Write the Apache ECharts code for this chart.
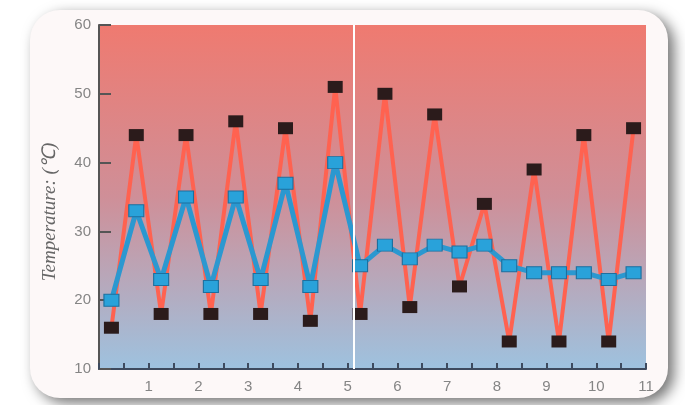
<!DOCTYPE html>
<html>
<head>
<meta charset="utf-8">
<script src="https://cdn.jsdelivr.net/npm/echarts@6/dist/echarts.min.js"></script>
<style>html,body{margin:0;padding:0;background:#fff;}#c{width:685px;height:405px;}</style>
</head>
<body>
<div id="c"></div>
<script>
const xPositions = [0.25,0.75,1.25,1.75,2.25,2.75,3.25,3.75,4.25,4.75,5.25,5.75,6.25,6.75,7.25,7.75,8.25,8.75,9.25,9.75,10.25,10.75];
const extremeTemps = [16,44,18,44,18,46,18,45,17,51,18,50,19,47,22,34,14,39,14,44,14,45];
const meanTemps = [20,33,23,35,22,35,23,37,22,40,25,28,26,28,27,28,25,24,24,24,23,24];
const dividerX = 5.12;
const yTicks = {min:10, max:60, interval:10};
const xTicks = {min:0, max:11, interval:1};

const chart = echarts.init(document.getElementById('c'));
const pair = arr => xPositions.map((x,i)=>[x,arr[i]]);
chart.setOption({
  animation:false,
  backgroundColor:'#ffffff',
  graphic:[{
    type:'rect', z:-100, silent:true,
    shape:{x:30,y:10,width:638,height:388,r:30},
    style:{fill:'#fdf8f8',shadowBlur:14,shadowOffsetX:6,shadowOffsetY:5,shadowColor:'rgba(0,0,0,0.55)'}
  }],
  grid:{left:99,top:25,right:39,bottom:36,show:true,borderWidth:0,
    backgroundColor:{type:'linear',x:0,y:0,x2:0,y2:1,colorStops:[
      {offset:0,color:'#ef7a70'},{offset:0.5,color:'#cf8f98'},{offset:1,color:'#9ec2df'}]}},
  xAxis:{type:'value',min:xTicks.min,max:xTicks.max,interval:xTicks.interval,
    axisLine:{show:true,onZero:false,lineStyle:{color:'#3e4a5e',width:2}},
    axisTick:{show:true,inside:true,length:6,lineStyle:{color:'#3e4a5e',width:2}},
    minorTick:{show:true,splitNumber:2,length:6,lineStyle:{color:'#3e4a5e',width:2}},
    splitLine:{show:false},
    axisLabel:{color:'#858585',fontSize:15,fontFamily:'Liberation Sans',margin:10,
      formatter:v=>v===0?'':String(v)}},
  yAxis:{type:'value',min:yTicks.min,max:yTicks.max,interval:yTicks.interval,
    name:'Temperature: (℃)',nameLocation:'middle',nameGap:40,
    nameTextStyle:{color:'#666',fontSize:19,fontStyle:'italic',fontFamily:'Liberation Serif',padding:[0,30,0,0]},
    axisLine:{show:true,lineStyle:{color:'#555',width:2}},
    axisTick:{show:true,inside:true,length:12,lineStyle:{color:'#555',width:2}},
    splitLine:{show:false},
    axisLabel:{color:'#858585',fontSize:15,fontFamily:'Liberation Sans',margin:8}},
  series:[
    {type:'line',data:pair(extremeTemps),z:2,
      lineStyle:{color:'#ff6250',width:4},
      symbol:'rect',symbolSize:[15,12],
      itemStyle:{color:'#2b1b1b',borderWidth:0},
      markLine:{silent:true,symbol:'none',label:{show:false},
        lineStyle:{color:'#ffffff',width:2,type:'solid'},
        data:[{xAxis:dividerX}]}},
    {type:'line',data:pair(meanTemps),z:3,
      lineStyle:{color:'#2b98d0',width:5},
      symbol:'rect',symbolSize:[15,12],
      itemStyle:{color:'#29a2da',borderColor:'#1d6f9e',borderWidth:1}}
  ]
});
</script>
</body>
</html>
